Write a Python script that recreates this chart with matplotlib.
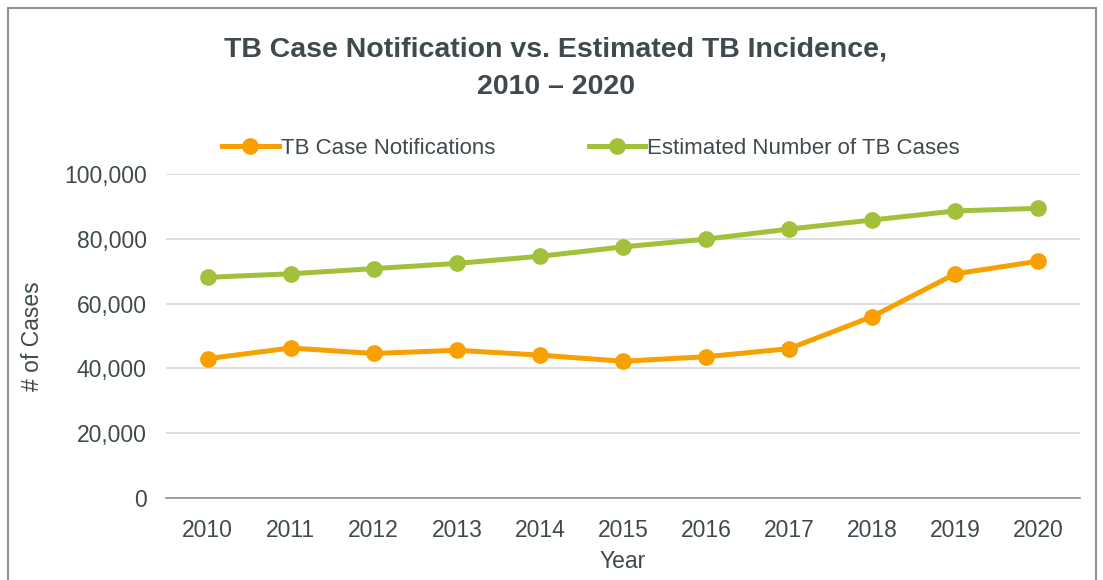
import matplotlib.pyplot as plt
import numpy as np

# data
years = ["2010", "2011", "2012", "2013", "2014", "2015",
         "2016", "2017", "2018", "2019", "2020"]
notifications = [43000, 46300, 44600, 45600, 44100, 42200,
                 43600, 46100, 56000, 69200, 73100]
estimated = [68100, 69200, 70800, 72400, 74600, 77500,
             79900, 83000, 85800, 88600, 89400]
yticks = [0, 20000, 40000, 60000, 80000, 100000]

plt.rcParams['font.family'] = ['Liberation Sans Narrow', 'Liberation Sans', 'DejaVu Sans']

text_col = "#3f4a4f"
orange = "#f7a000"
green = "#a3c03a"

fig = plt.figure(figsize=(11.03, 5.80), dpi=100)
ax = fig.add_axes([166/1103, 1 - 498/580, (1080 - 166)/1103, (498 - 174)/580])

x = np.arange(len(years))
ax.plot(x, notifications, color=orange, linewidth=3.6, marker="o",
        markersize=11, label="TB Case Notifications")
ax.plot(x, estimated, color=green, linewidth=3.6, marker="o",
        markersize=11, label="Estimated Number of TB Cases")

# axes settings
ax.set_xlim(-0.5, len(years) - 0.5)
ax.set_ylim(0, 100000)
ax.set_yticks(yticks)
ax.set_yticklabels([f"{v:,}" for v in yticks])
ax.set_xticks(x)
ax.set_xticklabels(years)
ax.tick_params(axis="both", length=0, labelsize=16.5, colors=text_col)
ax.tick_params(axis="x", pad=15)
ax.tick_params(axis="y", pad=14)

ax.grid(axis="y", color="#d5d8da", linewidth=1.2)
ax.set_axisbelow(True)
for s in ["top", "right", "left"]:
  ax.spines[s].set_visible(False)
ax.spines["bottom"].set_color("#8a9399")
ax.spines["bottom"].set_linewidth(1.2)

ax.set_xlabel("Year", fontsize=16.5, color=text_col, labelpad=6)
ax.set_ylabel("# of Cases", fontsize=16.5, color=text_col, labelpad=14)

fig.text(0.504, 1 - 68/580, "TB Case Notification vs. Estimated TB Incidence,\n2010 \u2013 2020",
         ha="center", va="center", fontsize=20.5, fontweight="bold",
         color=text_col, linespacing=1.55)

ax.legend(loc="center", bbox_to_anchor=((591 - 166)/914, 1 + 26/324), ncol=2,
          frameon=False, fontsize=16, labelcolor=text_col, handlelength=2.55,
          columnspacing=4.2, handletextpad=0.1)

# chart border
border = plt.Rectangle((8/1103, -0.05), (1096 - 8)/1103, 1.05 - 8/580,
                       transform=fig.transFigure, fill=False,
                       edgecolor="#8a9399", linewidth=1.5)
fig.patches.append(border)

fig.savefig("out.png", dpi=100)
